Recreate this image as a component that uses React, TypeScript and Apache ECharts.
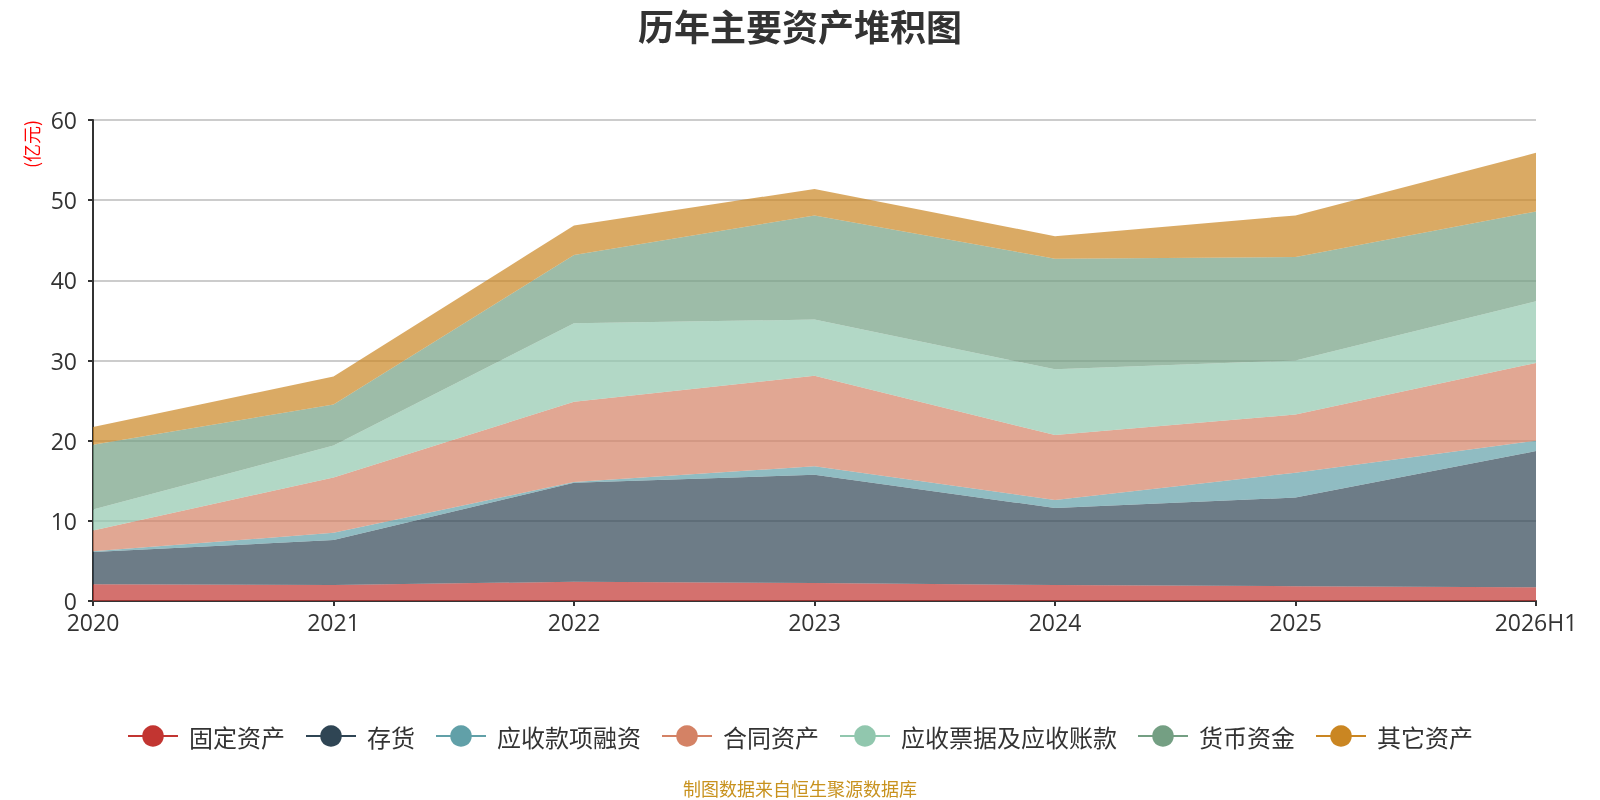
import React, { useEffect, useRef } from "react";
import * as echarts from "echarts";

const categories = ["2020", "2021", "2022", "2023", "2024", "2025", "2026H1"];
const seriesNames = ["固定资产", "存货", "应收款项融资", "合同资产", "应收票据及应收账款", "货币资金", "其它资产"];
const fixedAssets = [2.1, 2.0, 2.4, 2.25, 2.0, 1.85, 1.7];
const inventory = [4.0, 5.6, 12.35, 13.5, 9.6, 11.05, 17.0];
const receivablesFinancing = [0.1, 0.9, 0.1, 1.05, 1.0, 3.1, 1.3];
const contractAssets = [2.6, 6.9, 10.0, 11.3, 8.1, 7.25, 9.7];
const notesReceivable = [2.6, 4.0, 9.8, 7.0, 8.2, 6.75, 7.7];
const cash = [8.1, 5.1, 8.5, 13.0, 13.8, 12.9, 11.2];
const otherAssets = [2.2, 3.5, 3.7, 3.3, 2.8, 5.2, 7.3];
const yTicks = { min: 0, max: 60, interval: 10 };

const colors = ["#c23531", "#2f4554", "#61a0a8", "#d48265", "#91c7ae", "#749f83", "#ca8622"];
const values = [fixedAssets, inventory, receivablesFinancing, contractAssets, notesReceivable, cash, otherAssets];

const FONT = "'Open Sans', 'Noto Sans CJK SC', sans-serif";
const CJK = "'Noto Sans CJK SC', sans-serif";

export default function App() {
  const ref = useRef<HTMLDivElement>(null);
  useEffect(() => {
    if (!ref.current) return;
    const chart = echarts.init(ref.current, null, { renderer: "svg" });
    chart.setOption({
      animation: false,
      color: colors,
      textStyle: { fontFamily: FONT },
      title: {
        text: "历年主要资产堆积图",
        left: "center",
        top: 2,
        textStyle: { fontSize: 36, fontWeight: "bold", color: "#333", fontFamily: CJK },
      },
      graphic: [
        {
          type: "text",
          x: 31,
          y: 144,
          rotation: Math.PI / 2,
          style: {
            text: "(亿元)",
            fill: "#ff0000",
            fontSize: 18,
            fontFamily: CJK,
            align: "center",
            verticalAlign: "middle",
          },
        },
        {
          type: "text",
          x: 800,
          y: 788,
          style: {
            text: "制图数据来自恒生聚源数据库",
            fill: "#c8921e",
            fontSize: 18,
            fontFamily: CJK,
            align: "center",
            verticalAlign: "middle",
          },
        },
      ],
      legend: {
        data: seriesNames,
        top: 719,
        left: "center",
        itemWidth: 50,
        itemHeight: 27,
        itemGap: 20,
        lineStyle: { width: 2 },
        textStyle: { fontSize: 24, color: "#333", fontFamily: CJK, padding: [0, 0, 0, 6] },
      },
      grid: { left: 93, right: 64, top: 120, bottom: 199, containLabel: false },
      xAxis: {
        type: "category",
        data: categories,
        boundaryGap: false,
        axisLine: { lineStyle: { color: "#333", width: 2 } },
        axisTick: { show: true, lineStyle: { color: "#333", width: 2 } },
        axisLabel: { fontSize: 23, color: "#333", margin: 9 },
      },
      yAxis: {
        type: "value",
        min: yTicks.min,
        max: yTicks.max,
        interval: yTicks.interval,
        axisLine: { show: true, lineStyle: { color: "#333", width: 2 } },
        axisTick: { show: true, lineStyle: { color: "#333", width: 2 } },
        axisLabel: { fontSize: 23, color: "#333", margin: 16 },
        splitLine: { lineStyle: { color: "#ccc", width: 2 } },
      },
      series: seriesNames.map((name, i) => ({
        name,
        type: "line",
        stack: "total",
        data: values[i],
        symbol: "circle",
        showSymbol: false,
        lineStyle: { width: 0 },
        areaStyle: { opacity: 0.7 },
        itemStyle: { color: colors[i] },
      })),
    });
    return () => chart.dispose();
  }, []);
  return <div ref={ref} style={{ position: "fixed", left: 0, top: 0, width: 1600, height: 800 }} />;
}
